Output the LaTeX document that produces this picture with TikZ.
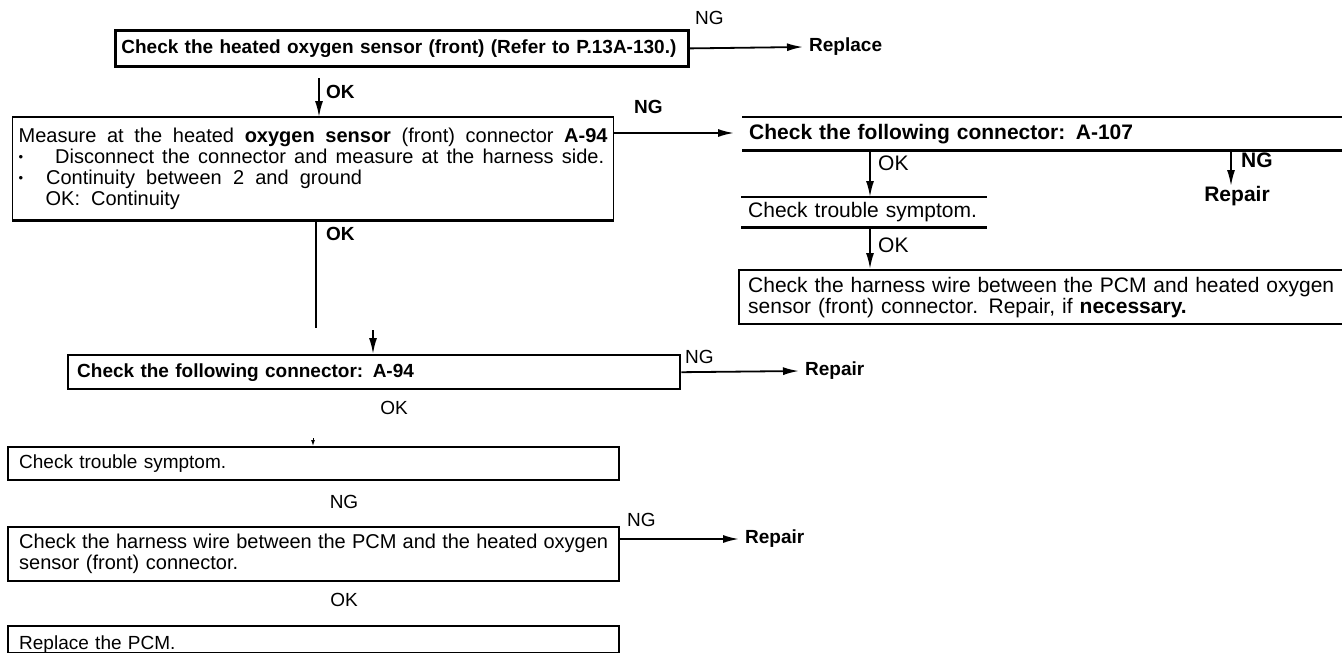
\documentclass[tikz,border=0pt]{standalone}
\usepackage{fontspec}
\setmainfont{Liberation Sans}
\usetikzlibrary{arrows.meta,positioning}
\newcommand\boxfont{\fontsize{19pt}{21pt}\selectfont}
\newcommand\wordfont{\fontsize{20pt}{21pt}\selectfont}
\newcommand\rightfont{\fontsize{21pt}{21pt}\selectfont}
% one line spread to a fixed width
\newcommand\spreadline[2]{\leavevmode\hbox to #1{\spaceskip=.28em plus 1fil
  \xspaceskip=.28em plus 1fil\relax #2}}
\newcommand\dotmark{\raisebox{1.5pt}{\fontsize{13pt}{13pt}\selectfont\textbullet}}
\tikzset{
  >={Latex[length=16pt,width=8pt]},
  flow/.style={->,line width=1.8pt},
  wire/.style={line width=1.8pt},
  tinytip/.style={-{Latex[length=6pt,width=4pt]},line width=1pt},
  stepbox/.style={draw,line width=2.4pt,anchor=north west,inner xsep=9pt,
    inner ysep=0pt,align=left,font=\boxfont},
  headbox/.style={anchor=north west,inner xsep=7pt,inner ysep=0pt,
    align=left,font=\rightfont\bfseries},
  rulebar/.style={line width=2.4pt},
  thickbar/.style={line width=2.8pt},
  ynlbl/.style={font=\boxfont,inner sep=0pt},
  ynbold/.style={font=\boxfont\bfseries,inner sep=0pt},
  result/.style={font=\boxfont\bfseries,inner sep=0pt,inner xsep=6pt,anchor=west},
}

\begin{document}
\begin{tikzpicture}[x=1pt,y=-1pt]
  \useasboundingbox (0,0) rectangle (1342,653);

  % left column
  \node[stepbox,line width=2.8pt,inner xsep=6pt,text width=561pt,
    minimum height=36pt,font=\boxfont\bfseries] (chk1) at (114,29)
    {Check the heated oxygen sensor (front) (Refer to P.13A-130.)};
  \node[stepbox,line width=1.2pt,inner xsep=6pt,text width=589pt,
    minimum height=102pt,font=\wordfont] (meas) at (12,117)
    {\spreadline{589pt}{Measure at the heated \textbf{oxygen sensor} (front) connector \textbf{A-94}}\\
     \dotmark\hspace*{32pt}\spreadline{549pt}{Disconnect the connector and measure at the harness side.}\\
     \dotmark\hspace*{23pt}\spreadline{316pt}{Continuity between 2 and ground}\\
     \hspace*{27pt}OK:\hspace*{11pt}Continuity};
  \draw[thickbar] (meas.north west) -- (meas.north east);
  \draw[thickbar] (meas.south west) -- (meas.south east);
  \node[stepbox,text width=594pt,minimum height=34pt,font=\boxfont\bfseries]
    (conn94) at (67,354) {Check the following connector: A-94};
  \node[stepbox,inner xsep=11pt,text width=589pt,minimum height=33pt]
    (trb1) at (7,446) {Check trouble symptom.};
  \node[stepbox,inner xsep=11pt,text width=589pt,minimum height=54pt,
    font=\wordfont] (harn1) at (7,526)
    {\spreadline{589pt}{Check the harness wire between the PCM and the heated oxygen}\\
     sensor (front) connector.};
  \node[stepbox,inner xsep=11pt,text width=589pt,minimum height=27pt,
    text height=19pt,text depth=0pt] (pcm) at (7,625) {Replace the PCM.};

  % right column
  \node[headbox,text width=586pt,minimum height=33pt] (hdr107) at (742,117)
    {Check the following connector: A-107};
  \draw[rulebar] (hdr107.north west) -- (hdr107.north east);
  \draw[rulebar] (hdr107.south west) -- (hdr107.south east);
  \node[headbox,font=\rightfont,text width=232pt,minimum height=30pt] (trb2)
    at (741,197) {Check trouble symptom.};
  \draw[rulebar] (trb2.north west) -- (trb2.north east);
  \draw[rulebar] (trb2.south west) -- (trb2.south east);
  \node[stepbox,font=\rightfont,text width=586pt,minimum height=54pt] (harn2)
    at (738,269)
    {\spreadline{586pt}{Check the harness wire between the PCM and heated oxygen}\\
     sensor (front) connector. Repair, if \textbf{necessary.}};

  % results
  \node[result] (rpl1) at (803,47) {Replace};
  \node[result] (rpr94) at (799,371) {Repair};
  \node[result] (rpr2) at (739,539) {Repair};
  \node[font=\rightfont\bfseries,inner sep=0pt] (rpr107) at (1237,196) {Repair};

  % x positions of the vertical runs
  \coordinate (okA) at (319,78);
  \coordinate (okC) at (316,328);
  \coordinate (okD) at (373,330);
  \coordinate (tipE) at (313,438);
  \coordinate (okB) at (870,0);
  \coordinate (ngA) at (1231,0);
  \coordinate (ng2) at ([yshift=-16pt]meas.north east);
  \coordinate (ng4) at ([yshift=-13pt]harn1.north east);

  % connectors
  \draw[flow] (chk1.east) -- (rpl1.west);
  \draw[flow] (okA) -- (okA |- meas.north);
  \draw[flow,shorten >=8pt] (ng2) -- (ng2 -| hdr107.west);
  \draw[flow] (hdr107.south -| okB) -- (trb2.north -| okB);
  \draw[flow] (trb2.south -| okB) -- (harn2.north -| okB);
  \draw[flow] (hdr107.south -| ngA) -- (rpr107.north -| ngA);
  \draw[wire] (meas.south -| okC) -- (okC);
  \draw[flow] (okD) -- (okD |- conn94.north);
  \draw[flow] (conn94.east) -- (rpr94.west);
  \draw[tinytip] (tipE) -- (tipE |- trb1.north);
  \draw[flow] (ng4) -- (ng4 -| rpr2.west);

  % branch labels
  \node[ynlbl,anchor=west] (ngl1) at (695,18) {NG};
  \node[ynbold,anchor=west] (okl1) at (326,92) {OK};
  \node[ynbold,anchor=west] (ngl2) at (634,107) {NG};
  \node[ynbold,anchor=west] (okl2) at (326,234) {OK};
  \node[ynlbl,font=\rightfont,anchor=west] (okl3) at (878,163) {OK};
  \node[ynlbl,font=\rightfont,anchor=west] (okl4) at (878,245) {OK};
  \node[ynbold,font=\rightfont\bfseries,anchor=west] (ngl3) at (1241,160) {NG};
  \node[ynlbl,anchor=west] (ngl4) at (685,357) {NG};
  \node[ynlbl] (okl5) at (394,408) {OK};
  \node[ynlbl] (ngl5) at (344,502) {NG};
  \node[ynlbl,anchor=west] (ngl6) at (627,520) {NG};
  \node[ynlbl] (okl6) at (344,600) {OK};
\end{tikzpicture}
\end{document}
